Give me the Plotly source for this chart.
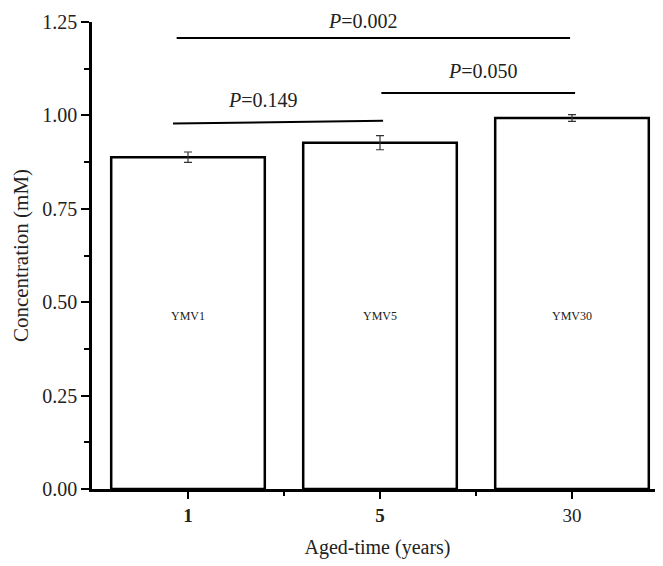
import plotly.graph_objects as go

categories = ["1", "5", "30"]
tick_text = ["<b>1</b>", "<b>5</b>", "30"]
bar_labels = ["YMV1", "YMV5", "YMV30"]
values = [0.888, 0.927, 0.993]
errors = [0.014, 0.019, 0.009]
label_y = [0.463, 0.463, 0.463]

# significance brackets
sig_x0 = [-0.078, 1.007, -0.059]
sig_x1 = [1.016, 2.016, 1.99]
sig_y0 = [0.978, 1.060, 1.207]
sig_y1 = [0.986, 1.060, 1.207]
sig_text = ["<i>P</i>=0.149", "<i>P</i>=0.050", "<i>P</i>=0.002"]
sig_tx = [0.39, 1.536, 0.91]
sig_ty = [1.040, 1.120, 1.254]

Y_MAX = 1.25
xpos = list(range(len(categories)))
FONT = "Liberation Serif, Times New Roman, serif"

fig = go.Figure()
fig.add_trace(go.Bar(
    x=xpos, y=values, width=0.8,
    marker=dict(color="white", line=dict(color="black", width=2.5)),
    error_y=dict(type="data", array=errors, color="#333", thickness=1.2, width=4),
    showlegend=False,
))
for i in range(len(sig_text)):
    fig.add_trace(go.Scatter(
        x=[sig_x0[i], sig_x1[i]], y=[sig_y0[i], sig_y1[i]], mode="lines",
        line=dict(color="black", width=2), showlegend=False, cliponaxis=False,
    ))
    fig.add_annotation(x=sig_tx[i], xref="x", y=sig_ty[i] / Y_MAX, yref="paper",
                       xanchor="center", yanchor="middle",
                       text=sig_text[i], showarrow=False,
                       font=dict(family=FONT, size=20, color="#222"))
for i, lab in enumerate(bar_labels):
    fig.add_annotation(x=xpos[i], y=label_y[i], text=lab, showarrow=False,
                       font=dict(family=FONT, size=12, color="#222"))

fig.update_layout(
    width=655, height=558,
    margin=dict(l=84, r=0, t=14, b=77),
    plot_bgcolor="white", paper_bgcolor="white",
    font=dict(family=FONT, size=20, color="#222"),
    xaxis=dict(
        range=[-0.5, -0.5 + 571 / 192], tickvals=xpos, ticktext=tick_text,
        showline=True, linecolor="black", linewidth=2.5, showgrid=False, zeroline=False,
        ticks="outside", ticklen=7, tickwidth=2, tickcolor="black",
        minor=dict(tickvals=[0.5, 1.5], ticks="outside", ticklen=4, tickwidth=2, tickcolor="black"),
        title=dict(text="Aged-time (years)", font=dict(size=20), standoff=16),
        tickfont=dict(size=19),
    ),
    yaxis=dict(
        range=[0, Y_MAX], tick0=0, dtick=0.25, tickformat=".2f",
        showline=True, linecolor="black", linewidth=2.5, showgrid=False, zeroline=False,
        ticks="outside", ticklen=8, tickwidth=2, tickcolor="black",
        minor=dict(dtick=0.125, tick0=0, ticks="outside", ticklen=5, tickwidth=2, tickcolor="black"),
        title=dict(text="Concentration (mM)", font=dict(size=21), standoff=8),
        tickfont=dict(size=20),
    ),
)
fig.write_html("out.html")
